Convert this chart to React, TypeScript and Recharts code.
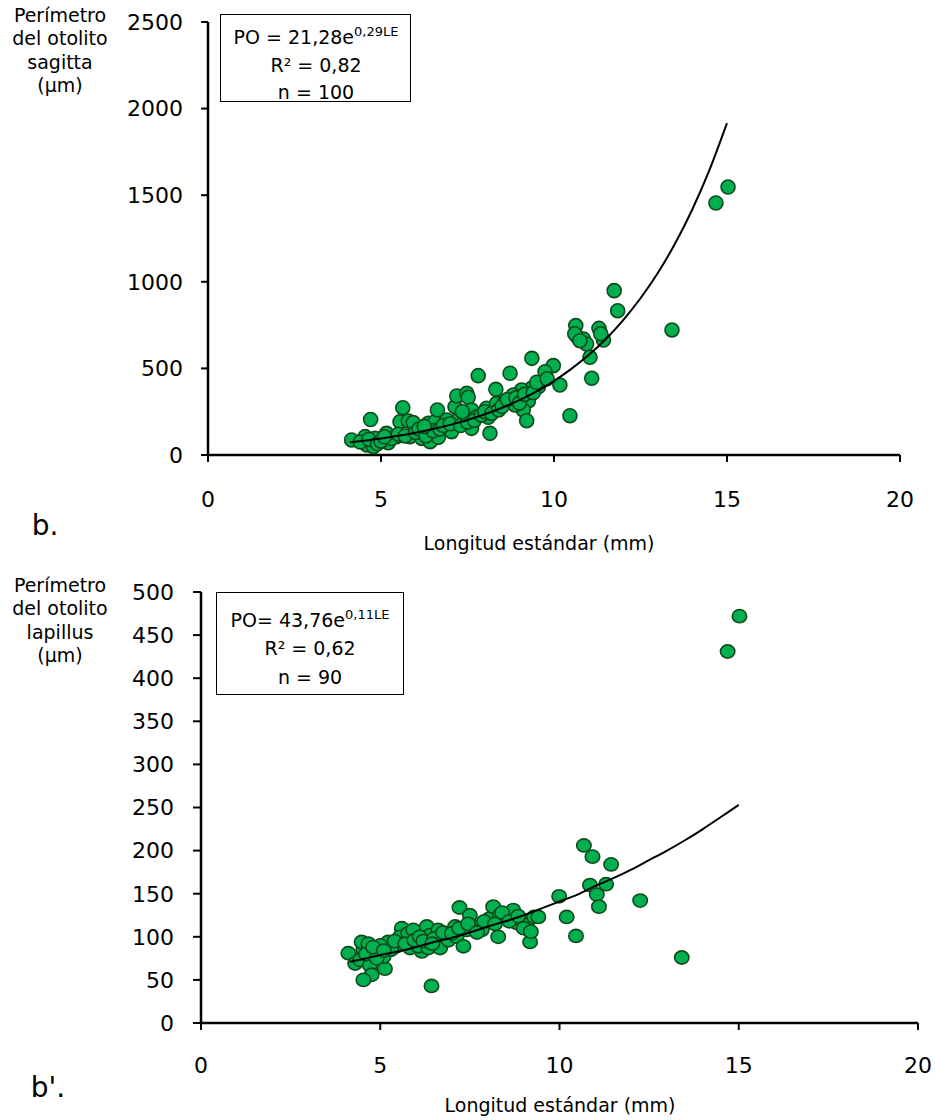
import React from 'react';
import { ScatterChart, Scatter, XAxis, YAxis } from 'recharts';

// ---------- Data: sagitta (top chart) ----------
const sagittaX = [
  15.03, 14.68, 13.41, 11.74, 11.84, 10.63, 11.3, 10.67, 10.85, 10.94, 11.43, 11.04, 9.36, 9.98, 9.74, 11.09, 10.17, 9.55, 9.35, 9.06,
  9.26, 9.11, 9.21, 10.46, 4.15, 4.54, 4.7, 4.59, 4.83, 4.78, 5.16, 5.21, 5.45, 5.63, 5.55, 5.79, 5.93, 5.84, 6.18, 6.42,
  6.37, 6.56, 6.63, 6.66, 6.9, 7.04, 7.14, 7.19, 7.48, 7.52, 7.23, 7.43, 7.62, 7.62, 7.81, 7.77, 8.05, 8.1, 8.15, 8.32,
  8.34, 8.58, 8.73, 8.82, 8.87, 4.4, 4.65, 4.9, 5.0, 5.3, 5.5, 5.7, 6.0, 6.1, 6.3, 6.5, 6.7, 6.8, 7.0, 7.3,
  7.5, 7.7, 7.9, 8.0, 8.2, 8.4, 8.5, 8.65, 8.9, 9.0, 9.15, 9.4, 9.5, 9.8, 10.6, 10.75, 11.35, 5.1, 6.25, 7.35,
];
const sagittaY = [
  1547, 1455, 722, 949, 833, 747, 731, 683, 670, 641, 664, 564, 558, 516, 481, 443, 404, 394, 385, 375,
  312, 260, 198, 227, 87, 106, 205, 58, 96, 48, 125, 71, 106, 273, 192, 196, 187, 106, 96, 77,
  183, 192, 260, 102, 202, 135, 279, 341, 356, 333, 202, 212, 154, 260, 458, 221, 270, 218, 125, 379,
  298, 308, 472, 346, 289, 75, 90, 65, 80, 95, 120, 110, 130, 150, 110, 140, 150, 170, 180, 170,
  190, 200, 230, 250, 240, 260, 280, 320, 330, 300, 350, 360, 420, 440, 700, 660, 700, 105, 165, 250,
];
const sagittaTrendX = [4.1, 4.5, 5, 5.5, 6, 6.5, 7, 7.5, 8, 8.5, 9, 9.5, 10, 10.5, 11, 11.5, 12, 12.5, 13, 13.5, 14, 14.5, 15];
const sagittaTrendY = [73, 82, 95, 111, 129, 150, 174, 202, 235, 273, 317, 368, 427, 497, 577, 670, 779, 905, 1051, 1221, 1419, 1649, 1916];
const sagittaYTicks = [0, 500, 1000, 1500, 2000, 2500];

// ---------- Data: lapillus (bottom chart) ----------
const lapillusX = [
  4.11, 4.3, 4.53, 4.48, 4.67, 4.44, 4.85, 4.71, 4.76, 4.53, 5.13, 5.09, 5.22, 5.22, 5.46, 5.6, 5.55, 5.78, 5.83, 5.92,
  6.16, 6.06, 6.3, 6.34, 6.43, 6.39, 6.57, 6.62, 6.67, 6.85, 6.9, 7.09, 7.21, 7.13, 7.32, 7.41, 7.5, 7.6, 7.83, 8.04,
  8.15, 8.29, 8.34, 8.53, 8.71, 8.81, 8.95, 9.09, 9.18, 9.29, 10.68, 10.92, 11.44, 10.85, 11.3, 11.04, 11.1, 12.25, 9.99, 10.2,
  10.46, 13.41, 9.41, 15.02, 14.69, 4.6, 4.9, 5.0, 5.3, 5.4, 5.7, 5.95, 6.1, 6.2, 6.5, 6.75, 7.0, 7.2, 7.45, 7.7,
  7.9, 8.2, 8.4, 8.6, 8.85, 9.0, 9.2, 4.8, 5.1, 6.45,
];
const lapillusY = [
  81, 69, 85, 94, 92, 73, 83, 67, 56, 50, 63, 77, 89, 94, 89, 110, 100, 104, 87, 108,
  83, 89, 112, 87, 43, 102, 100, 108, 87, 104, 96, 112, 134, 100, 89, 108, 125, 112, 108, 121,
  135, 100, 125, 121, 131, 116, 119, 114, 94, 123, 206, 193, 184, 160, 161, 149, 135, 142, 147, 123,
  101, 76, 123, 472, 431, 80, 75, 90, 85, 95, 92, 96, 100, 95, 98, 105, 104, 110, 115, 105,
  118, 115, 128, 118, 124, 110, 106, 88, 84, 92,
];
const lapillusTrendX = [4.15, 4.5, 5, 5.5, 6, 6.5, 7, 7.5, 8, 8.5, 9, 9.5, 10, 10.5, 11, 11.5, 12, 12.5, 13, 13.5, 14, 14.5, 15];
const lapillusTrendY = [71, 74, 79, 83, 88, 94, 99, 105, 112, 118, 125, 133, 141, 149, 159, 168, 178, 189, 200, 212, 225, 239, 253];
const lapillusYTicks = [0, 50, 100, 150, 200, 250, 300, 350, 400, 450, 500];

const xTicks = [0, 5, 10, 15, 20];

const zip = (xs: number[], ys: number[]) => xs.map((x, i) => ({ x, y: ys[i] }));

const FONT = "'DejaVu Sans', sans-serif";
const GREEN = '#00B050';
const DARK = '#0f4a1a';

const TopDot = (p: any) => <circle cx={p.cx} cy={p.cy} r={7} fill={GREEN} stroke={DARK} strokeWidth={1.6} />;
const BottomDot = (p: any) => <ellipse cx={p.cx} cy={p.cy} rx={7.2} ry={6.6} fill={GREEN} stroke={DARK} strokeWidth={1.6} />;
const NoDot = () => <g />;

const tickStyle = { fill: '#000', fontSize: 22, fontFamily: FONT };
const axisLine = { stroke: '#000', strokeWidth: 2.5 };
const tickLine = { stroke: '#000', strokeWidth: 2 };

const abs = (left: number, top: number, extra: React.CSSProperties = {}): React.CSSProperties => ({
  position: 'absolute',
  left,
  top,
  fontFamily: FONT,
  color: '#000',
  whiteSpace: 'nowrap',
  lineHeight: 1,
  ...extra,
});

const CenterLine = ({ cx, cy, size, children }: { cx: number; cy: number; size: number; children: React.ReactNode }) => (
  <div style={abs(cx, cy, { fontSize: size, transform: 'translate(-50%, -50%)', textAlign: 'center' })}>{children}</div>
);

export default function App() {
  const sagitta = zip(sagittaX, sagittaY);
  const sagittaTrend = zip(sagittaTrendX, sagittaTrendY);
  const lapillus = zip(lapillusX, lapillusY);
  const lapillusTrend = zip(lapillusTrendX, lapillusTrendY);

  return (
    <div style={{ position: 'absolute', left: 0, top: 0, width: 935, height: 1120, background: '#fff', fontFamily: FONT }}>
      {/* Top chart */}
      <div style={{ position: 'absolute', left: 0, top: 0 }}>
        <ScatterChart width={935} height={560} margin={{ top: 22, right: 35, bottom: 0, left: 0 }}>
          <XAxis
            type="number"
            dataKey="x"
            domain={[0, 20]}
            ticks={xTicks}
            interval={0}
            height={105}
            tickSize={7}
            tickMargin={29}
            tick={tickStyle}
            axisLine={axisLine}
            tickLine={tickLine}
            allowDataOverflow
          />
          <YAxis
            type="number"
            dataKey="y"
            domain={[0, 2500]}
            ticks={sagittaYTicks}
            interval={0}
            width={208}
            tickSize={7}
            tickMargin={18}
            tick={tickStyle}
            axisLine={axisLine}
            tickLine={tickLine}
            allowDataOverflow
          />
          <Scatter data={sagitta} shape={TopDot} isAnimationActive={false} />
          <Scatter
            data={sagittaTrend}
            shape={NoDot}
            line={{ stroke: '#000', strokeWidth: 2 }}
            lineJointType="monotoneX"
            isAnimationActive={false}
          />
        </ScatterChart>
      </div>

      {/* Bottom chart */}
      <div style={{ position: 'absolute', left: 0, top: 560 }}>
        <ScatterChart width={935} height={560} margin={{ top: 32, right: 17, bottom: 0, left: 0 }}>
          <XAxis
            type="number"
            dataKey="x"
            domain={[0, 20]}
            ticks={xTicks}
            interval={0}
            height={97}
            tickSize={7}
            tickMargin={27}
            tick={tickStyle}
            axisLine={axisLine}
            tickLine={tickLine}
            allowDataOverflow
          />
          <YAxis
            type="number"
            dataKey="y"
            domain={[0, 500]}
            ticks={lapillusYTicks}
            interval={0}
            width={201}
            tickSize={8}
            tickMargin={19}
            tick={tickStyle}
            axisLine={axisLine}
            tickLine={tickLine}
            allowDataOverflow
          />
          <Scatter data={lapillus} shape={BottomDot} isAnimationActive={false} />
          <Scatter
            data={lapillusTrend}
            shape={NoDot}
            line={{ stroke: '#000', strokeWidth: 2 }}
            lineJointType="monotoneX"
            isAnimationActive={false}
          />
        </ScatterChart>
      </div>

      {/* Top annotations */}
      <CenterLine cx={60} cy={15} size={19}>Perímetro</CenterLine>
      <CenterLine cx={60} cy={38} size={19}>del otolito</CenterLine>
      <CenterLine cx={60} cy={62} size={19}>sagitta</CenterLine>
      <CenterLine cx={60} cy={85} size={19}>(µm)</CenterLine>
      <div style={abs(220, 14, { width: 191, height: 88, border: '1.5px solid #000', boxSizing: 'border-box', background: '#fff' })} />
      <CenterLine cx={316} cy={37} size={19}>
        PO = 21,28e<sup style={{ fontSize: 13, verticalAlign: 'top', position: 'relative', top: -3 }}>0,29LE</sup>
      </CenterLine>
      <CenterLine cx={316} cy={65} size={19}>R² = 0,82</CenterLine>
      <CenterLine cx={316} cy={92} size={19}>n = 100</CenterLine>
      <CenterLine cx={539} cy={543} size={19}>Longitud estándar (mm)</CenterLine>
      <CenterLine cx={45} cy={526} size={28}>b.</CenterLine>

      {/* Bottom annotations */}
      <CenterLine cx={60} cy={585} size={19}>Perímetro</CenterLine>
      <CenterLine cx={60} cy={608} size={19}>del otolito</CenterLine>
      <CenterLine cx={60} cy={632} size={19}>lapillus</CenterLine>
      <CenterLine cx={60} cy={655} size={19}>(µm)</CenterLine>
      <div style={abs(216, 592, { width: 188, height: 103, border: '1.5px solid #000', boxSizing: 'border-box', background: '#fff' })} />
      <CenterLine cx={310} cy={620} size={19}>
        PO= 43,76e<sup style={{ fontSize: 13, verticalAlign: 'top', position: 'relative', top: -3 }}>0,11LE</sup>
      </CenterLine>
      <CenterLine cx={310} cy={648} size={19}>R² = 0,62</CenterLine>
      <CenterLine cx={310} cy={677} size={19}>n = 90</CenterLine>
      <CenterLine cx={560} cy={1105} size={19}>Longitud estándar (mm)</CenterLine>
      <CenterLine cx={48} cy={1088} size={28}>b'.</CenterLine>
    </div>
  );
}
